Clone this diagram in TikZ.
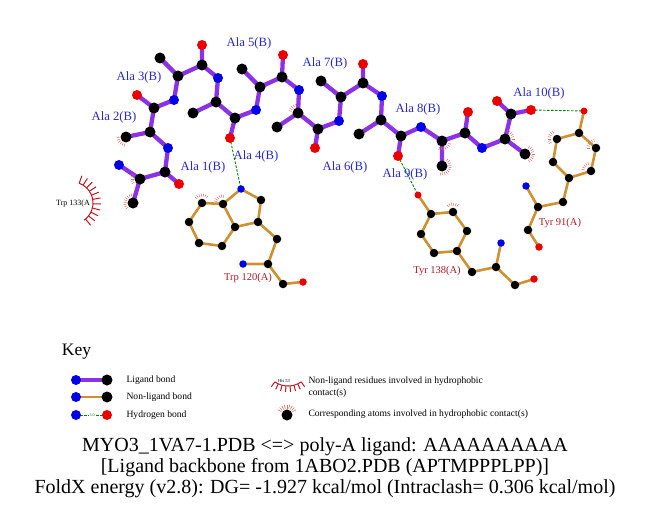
\documentclass[tikz,border=0pt]{standalone}
\usepackage{fontspec}
\setmainfont{Liberation Serif}
\usetikzlibrary{calc}
\definecolor{ligbond}{RGB}{140,50,230}
\definecolor{resbond}{RGB}{205,145,50}
\definecolor{natom}{RGB}{0,0,230}
\definecolor{oatom}{RGB}{235,0,0}
\definecolor{hbond}{RGB}{0,130,0}
\definecolor{liglab}{RGB}{40,40,200}
\definecolor{reslab}{RGB}{175,25,40}
\definecolor{hphob}{RGB}{185,25,35}
\definecolor{hspoke}{RGB}{225,110,110}
\newcommand\spokes[4]{\foreach \a in {#2,#3,...,#4}
  \draw[hspoke,line width=.5pt] ($(#1)+(\a:6.5)$) -- ($(#1)+(\a:9.5)$);}
\begin{document}
\begin{tikzpicture}[x=1pt,y=-1pt,
    catm/.style={circle,inner sep=0pt,minimum size=11pt,fill=black},
    natm/.style={catm,minimum size=10pt,fill=natom},
    oatm/.style={catm,minimum size=10pt,fill=oatom},
    rc/.style={catm,minimum size=8.5pt},
    rn/.style={natm,minimum size=7.5pt},
    ro/.style={oatm,minimum size=7.5pt},
    lig/.style={ligbond,line width=4.3pt,line join=round},
    res/.style={resbond,line width=2.6pt,line join=round},
    hb/.style={hbond,line width=.9pt,dash pattern=on 2.5pt off 1.5pt},
    alab/.style={text=liglab,font=\fontsize{12.7}{14}\selectfont},
    rlab/.style={text=reslab,font=\fontsize{10.5}{12}\selectfont},
    keytxt/.style={anchor=west,font=\fontsize{9.6}{12}\selectfont},
    ttl/.style={anchor=base,font=\fontsize{20}{21}\selectfont}]
\useasboundingbox (0,0) rectangle (651,511);
% ------ Ligand atoms -----------------
\coordinate (n1) at (119,165); \coordinate (ca1) at (140,179); \coordinate (cb1) at (133,203);
\coordinate (c1) at (165,172); \coordinate (o1) at (179,184);
\coordinate (n2) at (168,148); \coordinate (ca2) at (150,132); \coordinate (cb2) at (126,137);
\coordinate (c2) at (154,108); \coordinate (o2) at (137,95);
\coordinate (n3) at (174,100); \coordinate (ca3) at (178,76); \coordinate (cb3) at (160,58);
\coordinate (c3) at (202,65); \coordinate (o3) at (202,45);
\coordinate (n4) at (218,78); \coordinate (ca4) at (216,102); \coordinate (cb4) at (193,113);
\coordinate (c4) at (235,118); \coordinate (o4) at (230,138);
\coordinate (n5) at (256,110); \coordinate (ca5) at (260,87); \coordinate (cb5) at (242,69);
\coordinate (c5) at (282,77); \coordinate (o5) at (283,55);
\coordinate (n6) at (299,90); \coordinate (ca6) at (298,113); \coordinate (cb6) at (277,127);
\coordinate (c6) at (318,129); \coordinate (o6) at (315,148);
\coordinate (n7) at (339,121); \coordinate (ca7) at (341,97); \coordinate (cb7) at (321,81);
\coordinate (c7) at (363,83); \coordinate (o7) at (363,64);
\coordinate (n8) at (382,96); \coordinate (ca8) at (381,120); \coordinate (cb8) at (359,134);
\coordinate (c8) at (401,136); \coordinate (o8) at (398,156);
\coordinate (n9) at (421,127); \coordinate (ca9) at (442,141); \coordinate (cb9) at (442,166);
\coordinate (c9) at (465,133); \coordinate (o9) at (468,112);
\coordinate (n10) at (482,148); \coordinate (ca10) at (505,139); \coordinate (cb10) at (525,154);
\coordinate (c10) at (511,114); \coordinate (o10) at (497,101); \coordinate (oxt) at (531,110);
% ------ Trp 120 -----------------
\coordinate (w120ne1) at (241,189); \coordinate (w120cd1) at (261,200); \coordinate (w120cg) at (258,222);
\coordinate (w120cd2) at (235,227); \coordinate (w120ce2) at (223,204); \coordinate (w120cz2) at (202,203);
\coordinate (w120ch2) at (189,222); \coordinate (w120cz3) at (199,243); \coordinate (w120ce3) at (222,246);
\coordinate (w120cb) at (277,239); \coordinate (w120ca) at (268,264); \coordinate (w120n) at (243,264);
\coordinate (w120c) at (283,284); \coordinate (w120o) at (303,282);
% ------ Tyr 138 -----------------
\coordinate (y138oh) at (418,195); \coordinate (y138cz) at (431,214); \coordinate (y138ce1) at (453,212);
\coordinate (y138ce2) at (421,234); \coordinate (y138cd1) at (467,231); \coordinate (y138cd2) at (434,253);
\coordinate (y138cg) at (457,251); \coordinate (y138cb) at (472,272); \coordinate (y138ca) at (496,267);
\coordinate (y138n) at (501,243); \coordinate (y138c) at (515,285); \coordinate (y138o) at (534,279);
% ------ Tyr 91 -----------------
\coordinate (y91oh) at (584,111); \coordinate (y91cz) at (579,133); \coordinate (y91ce1) at (557,139);
\coordinate (y91ce2) at (596,148); \coordinate (y91cd1) at (553,162); \coordinate (y91cd2) at (591,171);
\coordinate (y91cg) at (569,178); \coordinate (y91cb) at (563,202); \coordinate (y91ca) at (538,207);
\coordinate (y91n) at (526,186); \coordinate (y91c) at (528,230); \coordinate (y91o) at (539,247);
% ------ Bonds -----------------
\foreach \i in {1,...,10}
  \draw[lig] (n\i) -- (ca\i) -- (c\i) -- (o\i) (ca\i) -- (cb\i);
\foreach \i [evaluate=\i as \j using int(\i+1)] in {1,...,9}
  \draw[lig] (c\i) -- (n\j);
\draw[lig] (c10) -- (oxt);
\draw[res] (w120ne1) -- (w120cd1) -- (w120cg) -- (w120cd2) -- (w120ce2) -- cycle;
\draw[res] (w120ce2) -- (w120cz2) -- (w120ch2) -- (w120cz3) -- (w120ce3) -- (w120cd2);
\draw[res] (w120cg) -- (w120cb) -- (w120ca) -- (w120c) -- (w120o) (w120ca) -- (w120n);
\draw[res] (y138cz) -- (y138ce1) -- (y138cd1) -- (y138cg) -- (y138cd2) -- (y138ce2) -- cycle;
\draw[res] (y138oh) -- (y138cz) (y138cg) -- (y138cb) -- (y138ca) -- (y138c) -- (y138o) (y138ca) -- (y138n);
\draw[res] (y91cz) -- (y91ce1) -- (y91cd1) -- (y91cg) -- (y91cd2) -- (y91ce2) -- cycle;
\draw[res] (y91oh) -- (y91cz) (y91cg) -- (y91cb) -- (y91ca) -- (y91c) -- (y91o) (y91ca) -- (y91n);
\draw[hb] (o4) -- (w120ne1);
\draw[hb] (o8) -- (y138oh);
\draw[hb] (oxt) -- (y91oh);
% ------ Hydrophobic contacts -----------------
\spokes{cb2}{100}{115}{175}
\spokes{ca1}{150}{165}{210}
\spokes{cb1}{140}{155}{260}
\spokes{ca6}{195}{210}{255}
\spokes{ca9}{20}{35}{110}
\spokes{cb9}{-50}{-35}{100}
\spokes{ca10}{-75}{-60}{0}
\spokes{cb10}{-60}{-45}{60}
\spokes{w120cz2}{220}{235}{320}
\spokes{w120ce2}{200}{215}{280}
\spokes{y138ce1}{230}{245}{310}
\spokes{y91ce1}{150}{165}{240}
\spokes{y91ce2}{180}{195}{260}
\spokes{y91cd2}{190}{205}{260}
% ------ Atoms -----------------
\foreach \i in {1,...,10} {
  \node[catm] at (ca\i) {}; \node[catm] at (cb\i) {}; \node[catm] at (c\i) {};
  \node[natm] at (n\i) {}; \node[oatm] at (o\i) {};
}
\node[oatm] at (oxt) {};
\foreach \a in {w120cd1,w120cg,w120cd2,w120ce2,w120cz2,w120ch2,w120cz3,w120ce3,w120cb,w120ca,w120c,
    y138cz,y138ce1,y138ce2,y138cd1,y138cd2,y138cg,y138cb,y138ca,y138c,
    y91cz,y91ce1,y91ce2,y91cd1,y91cd2,y91cg,y91cb,y91ca,y91c}
  \node[rc] at (\a) {};
\foreach \a in {w120ne1,w120n,y138n,y91n} \node[rn] at (\a) {};
\foreach \a in {w120o,y138o,y91o} \node[ro] at (\a) {};
\node[ro,minimum size=7pt] at (y138oh) {};
\node[ro,minimum size=7pt] at (y91oh) {};
% ------ Labels -----------------
\node[alab] (la1) at (203,167) {Ala 1(B)};
\node[alab] (la2) at (114,117) {Ala 2(B)};
\node[alab] (la3) at (139,77) {Ala 3(B)};
\node[alab] (la4) at (256,156) {Ala 4(B)};
\node[alab] (la5) at (249,43) {Ala 5(B)};
\node[alab] (la6) at (345,167) {Ala 6(B)};
\node[alab] (la7) at (325,63) {Ala 7(B)};
\node[alab] (la8) at (418,109) {Ala 8(B)};
\node[alab] (la9) at (405,174) {Ala 9(B)};
\node[alab] (la10) at (539,93) {Ala 10(B)};
\node[rlab] (lw120) at (248,278) {Trp 120(A)};
\node[rlab] (ly138) at (437,271) {Tyr 138(A)};
\node[rlab] (ly91) at (560,223) {Tyr 91(A)};
% ------ Trp 133 -----------------
\coordinate (w133) at (72,203);
\node[font=\fontsize{8}{9}\selectfont] (lw133) at (73,204) {Trp 133(A};
\draw[hphob,line width=1pt] (w133) ++(-70:21) arc[start angle=-70,end angle=55,radius=21];
\foreach \a in {-70,-58,...,55}
  \draw[hphob,line width=1pt] ($(w133)+(\a:21)$) -- ($(w133)+(\a:29)$);
% ------ Key -----------------
\node[font=\fontsize{17.5}{20}\selectfont] (key) at (76.5,352) {Key};
\coordinate (k1a) at (76,380); \coordinate (k1b) at (107,380);
\coordinate (k2a) at (76,397); \coordinate (k2b) at (107,397);
\coordinate (k3a) at (76,415); \coordinate (k3b) at (107,415);
\draw[lig] (k1a) -- (k1b);
\draw[res] (k2a) -- (k2b);
\draw[hb] (k3a) -- (k3b);
\node[fill=white,inner sep=.3pt,text=hbond,font=\fontsize{4}{4}\selectfont] (k3d) at (92,415) {3.0};
\node[natm] at (k1a) {}; \node[catm] at (k1b) {};
\node[natm] at (k2a) {}; \node[catm] at (k2b) {};
\node[natm] at (k3a) {}; \node[oatm] at (k3b) {};
\node[keytxt] (k1t) at (123,380) {Ligand bond};
\node[keytxt] (k2t) at (123,397) {Non-ligand bond};
\node[keytxt] (k3t) at (123,415) {Hydrogen bond};
\coordinate (his) at (288,363);
\draw[hphob,line width=1pt] (his) ++(55:23) arc[start angle=55,end angle=125,radius=23];
\foreach \a in {55,65,...,125}
  \draw[hphob,line width=1pt] ($(his)+(\a:23)$) -- ($(his)+(\a:29)$);
\node[font=\fontsize{4.5}{5}\selectfont] (k4l) at (284,381) {His 53};
\node[keytxt,align=left] (k4t) at (305,387) {Non-ligand residues involved in hydrophobic\\contact(s)};
\coordinate (k5) at (287,415);
\foreach \a in {-150,-135,...,-30}
  \draw[hspoke,line width=.6pt] ($(k5)+(\a:6.5)$) -- ($(k5)+(\a:10.5)$);
\node[catm] at (k5) {};
\node[keytxt] (k5t) at (305,414) {Corresponding atoms involved in hydrophobic contact(s)};
% ------ Title -----------------
\node[ttl] (t1) at (325,451) {MYO3\_1VA7-1.PDB <=> poly-A ligand: AAAAAAAAAA};
\node[ttl] (t2) at (325,472) {[Ligand backbone from 1ABO2.PDB (APTMPPPLPP)]};
\node[ttl] (t3) at (325,493) {FoldX energy (v2.8): DG= -1.927 kcal/mol (Intraclash= 0.306 kcal/mol)};
\end{tikzpicture}
\end{document}
